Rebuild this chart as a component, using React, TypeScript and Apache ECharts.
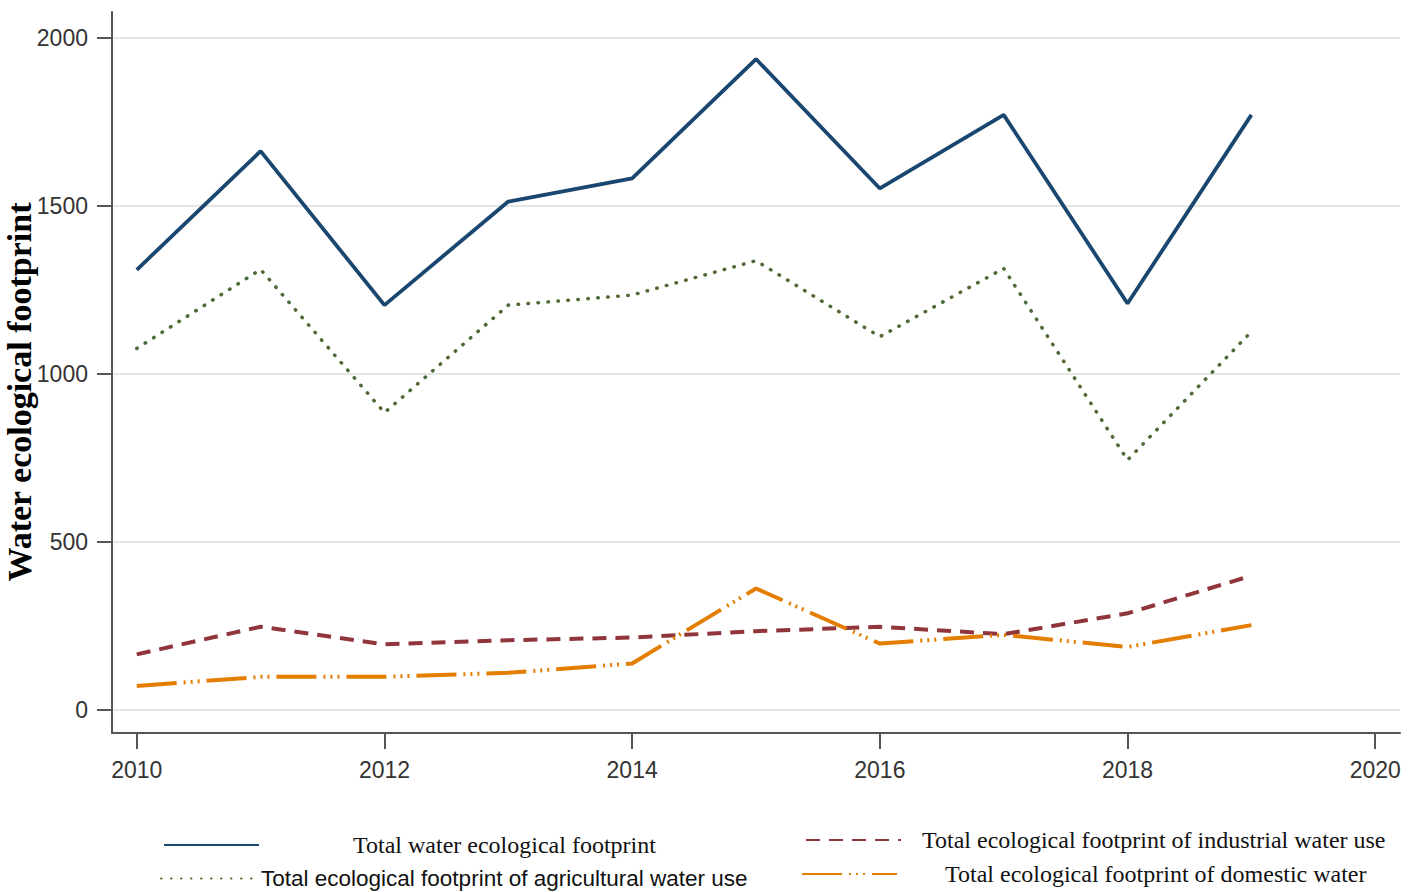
import React, { useEffect, useRef } from "react";
import * as echarts from "echarts";

const years = [2010, 2011, 2012, 2013, 2014, 2015, 2016, 2017, 2018, 2019];
const totalFootprint = [1310, 1663, 1205, 1513, 1582, 1937, 1552, 1771, 1210, 1771];
const agriculturalFootprint = [1076, 1311, 885, 1205, 1235, 1337, 1111, 1314, 744, 1126];
const industrialFootprint = [166, 248, 196, 208, 216, 235, 248, 226, 288, 400];
const domesticFootprint = [72, 99, 99, 111, 139, 362, 198, 224, 188, 253];

const yTicks = [0, 500, 1000, 1500, 2000];
const xTicks = [2010, 2012, 2014, 2016, 2018, 2020];

const seriesNames = [
  "Total water ecological footprint",
  "Total ecological footprint of agricultural water use",
  "Total ecological footprint of industrial water use",
  "Total ecological footprint of domestic water",
];

const pair = (vals: number[]) => years.map((y, i) => [y, vals[i]]);

export default function App() {
  const ref = useRef<HTMLDivElement>(null);
  useEffect(() => {
    if (!ref.current) return;
    const chart = echarts.init(ref.current, undefined, { renderer: "svg" });
    const serif = "'Liberation Serif', 'Times New Roman', serif";
    const sans = "'Liberation Sans', Arial, sans-serif";
    const legendBase = (
      name: string,
      left: number,
      top: number,
      pad: number,
      font: string,
      size: number
    ) => ({
      show: true,
      left,
      top,
      orient: "horizontal",
      itemWidth: 95,
      itemHeight: 14,
      itemGap: 0,
      padding: 0,
      selectedMode: false,
      itemStyle: { opacity: 0 },
      data: [name],
      textStyle: {
        fontFamily: font,
        fontSize: size,
        color: "#111",
        padding: [0, 0, 0, pad],
      },
    });
    chart.setOption({
      animation: false,
      backgroundColor: "#ffffff",
      grid: { left: 112, top: 12, right: 21, bottom: 159, containLabel: false },
      xAxis: {
        type: "value",
        min: 2009.8,
        max: 2020.2,
        axisLine: { show: true, onZero: false, lineStyle: { color: "#555", width: 2 } },
        axisTick: {
          show: true,
          length: 16,
          customValues: xTicks,
          lineStyle: { color: "#555", width: 2 },
        },
        axisLabel: {
          customValues: xTicks,
          margin: 25,
          fontFamily: sans,
          fontSize: 23,
          color: "#333",
          formatter: (v: number) => String(v),
        },
        splitLine: { show: false },
      },
      yAxis: {
        type: "value",
        min: -68,
        max: 2077,
        axisLine: { show: true, onZero: false, lineStyle: { color: "#555", width: 2 } },
        axisTick: {
          show: true,
          length: 15,
          customValues: yTicks,
          lineStyle: { color: "#555", width: 2 },
        },
        axisLabel: {
          customValues: yTicks,
          margin: 24,
          fontFamily: sans,
          fontSize: 23,
          color: "#333",
          formatter: (v: number) => String(v),
        },
        splitLine: { show: true, lineStyle: { color: "#e6e6e6", width: 2 } },
      },
      legend: [
        legendBase(seriesNames[0], 163, 833, 89, serif, 24),
        legendBase(seriesNames[2], 805, 828, 16, serif, 24),
        legendBase(seriesNames[1], 160, 867, 0, sans, 22.5),
        legendBase(seriesNames[3], 801, 862, 43, serif, 24),
      ],
      graphic: [
        {
          type: "text",
          x: 19,
          y: 392,
          rotation: Math.PI / 2,
          style: {
            text: "Water ecological footprint",
            font: "bold 34px 'Liberation Serif', 'Times New Roman', serif",
            fill: "#000",
            textAlign: "center",
            textVerticalAlign: "middle",
          },
        },
      ],
      series: [
        {
          name: seriesNames[0],
          type: "line",
          data: pair(totalFootprint),
          symbol: "none",
          lineStyle: { color: "#1a476f", width: 3.8, type: "solid" },
          itemStyle: { color: "#1a476f" },
        },
        {
          name: seriesNames[1],
          type: "line",
          data: pair(agriculturalFootprint),
          symbol: "none",
          lineStyle: { color: "#4f6a37", width: 3.5, type: [0.5, 9.5], cap: "round" },
          itemStyle: { color: "#4f6a37" },
        },
        {
          name: seriesNames[2],
          type: "line",
          data: pair(industrialFootprint),
          symbol: "none",
          lineStyle: { color: "#90353b", width: 4, type: [14, 9] },
          itemStyle: { color: "#90353b" },
        },
        {
          name: seriesNames[3],
          type: "line",
          data: pair(domesticFootprint),
          symbol: "none",
          lineStyle: { color: "#e37e00", width: 4, type: [40, 7, 2, 5, 2, 5, 2, 7] },
          itemStyle: { color: "#e37e00" },
        },
      ],
    });
    return () => chart.dispose();
  }, []);
  return (
    <div
      ref={ref}
      style={{ position: "absolute", left: 0, top: 0, width: 1421, height: 892 }}
    />
  );
}
